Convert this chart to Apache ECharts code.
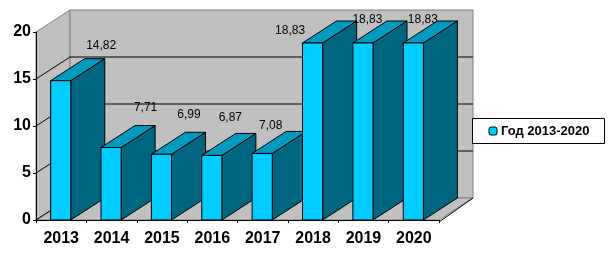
<!DOCTYPE html>
<html><head><meta charset="utf-8">
<style>html,body{margin:0;padding:0;background:#fff}#c{width:612px;height:255px}</style>
<script src="https://cdn.jsdelivr.net/npm/echarts@6/dist/echarts.min.js"></script>
</head><body><div id="c"></div>
<script>
const categories = ['2013','2014','2015','2016','2017','2018','2019','2020'];
const values = [14.82,7.71,6.99,6.87,7.08,18.83,18.83,18.83];
const labels = ['14,82','7,71','6,99','6,87','7,08','18,83','18,83','18,83'];
const yTicks = [0,5,10,15,20];
const seriesName = 'Год 2013-2020';
// label displacement from the bar's top-centre (styling, not data)
const labelDx = [40,34,27,18,8,-23,4,9];
const labelDy = [-35,-40,-40,-38,-28,-12,-23,-23];
const DX = 34, DY = -22, BAND = 0.4;
const FRONT='#00CCFF', TOP='#0099BF', SIDE='#006680', WALL='#C0C0C0', EDGE='#808080';
const font = 'Liberation Sans, Arial, sans-serif';

function poly(points, fill, stroke, lw){
  return {type:'polygon',shape:{points},style:{fill,stroke,lineWidth:lw===undefined?1:lw}};
}
function line(x1,y1,x2,y2,stroke){
  return {type:'line',shape:{x1,y1,x2,y2},style:{stroke,lineWidth:1}};
}
function renderWalls(params, api){
  const g = params.coordSys, L=g.x, R=g.x+g.width;
  const y0 = api.coord([0,0])[1], yT = api.coord([0,yTicks[yTicks.length-1]])[1];
  const kids = [
    poly([[L,y0],[L+DX,y0+DY],[L+DX,yT+DY],[L,yT]],WALL,EDGE),
    poly([[L+DX,y0+DY],[R+DX,y0+DY],[R+DX,yT+DY],[L+DX,yT+DY]],WALL,EDGE),
    poly([[L,y0],[R,y0],[R+DX,y0+DY],[L+DX,y0+DY]],WALL,EDGE),
    line(R,y0+2,R+DX,y0+DY,'#000')
  ];
  yTicks.forEach(t=>{
    const y = api.coord([0,t])[1];
    if(t>0 && t<yTicks[yTicks.length-1]) kids.push(line(L+DX,y+DY,R+DX,y+DY,'#000'));
    if(t<yTicks[yTicks.length-1]) kids.push(line(L,y,L+DX,y+DY,'#000'));
  });
  return {type:'group',children:kids};
}
function renderBar(params, api){
  const i = api.value(0), v = api.value(1);
  const c = api.coord([i,v]), b = api.coord([i,0]);
  const w = api.size([1,0])[0]*BAND, x0=c[0]-w/2-0.5, x1=c[0]+w/2-0.5, yt=c[1], yb=b[1];
  return {type:'group',children:[
    poly([[x1,yb],[x1+DX,yb+DY],[x1+DX,yt+DY],[x1,yt]],SIDE,'#000'),
    poly([[x0,yt],[x1,yt],[x1+DX,yt+DY],[x0+DX,yt+DY]],TOP,'#000'),
    poly([[x0,yb],[x1,yb],[x1,yt],[x0,yt]],FRONT,'#000')
  ]};
}
function renderLabel(params, api){
  const i = api.value(0), c = api.coord([i,api.value(1)]);
  return {type:'text',style:{
    text:labels[i],x:c[0]+labelDx[i],y:c[1]+labelDy[i],
    align:'center',verticalAlign:'middle',
    font:'12px '+font,fill:'#000'}};
}
const data = values.map((v,i)=>[i,v]);
const chart = echarts.init(document.getElementById('c'),null,{renderer:'canvas'});
chart.setOption({
  animation:false,
  backgroundColor:'#fff',
  grid:{left:36,right:173,top:32,bottom:35,containLabel:false},
  legend:{
    data:[{name:seriesName,icon:'roundRect',itemStyle:{color:FRONT,borderColor:'#000',borderWidth:1}}],
    left:472.5,top:118.5,
    itemWidth:8,itemHeight:8,itemGap:0,
    padding:[6,15,6,16],
    backgroundColor:'#fff',borderColor:'#000',borderWidth:1,borderRadius:0,
    textStyle:{fontFamily:font,fontSize:13,fontWeight:'bold',color:'#000',padding:[0,0,0,-1]}
  },
  xAxis:{type:'category',data:categories,boundaryGap:true,
    axisLine:{lineStyle:{color:'#000'}},
    axisTick:{show:true,length:3,alignWithLabel:false,lineStyle:{color:'#000'}},
    axisLabel:{fontFamily:font,fontSize:16,fontWeight:'bold',color:'#000',margin:11,interval:0},
    splitLine:{show:false}},
  yAxis:{type:'value',min:0,max:20,interval:5,
    axisLine:{show:true,lineStyle:{color:'#000'}},
    axisTick:{show:true,length:3,lineStyle:{color:'#000'}},
    axisLabel:{fontFamily:font,fontSize:16,fontWeight:'bold',color:'#000',margin:5},
    splitLine:{show:false}},
  series:[
    {type:'custom',name:'walls',z:-1,silent:true,data:[[0,0]],renderItem:renderWalls,clip:false},
    {type:'custom',name:seriesName,z:3,data,renderItem:renderBar,clip:false,
     itemStyle:{color:FRONT},encode:{x:0,y:1}},
    {type:'custom',name:'labels',z:5,silent:true,data,renderItem:renderLabel,clip:false,encode:{x:0,y:1}}
  ]
});
</script></body></html>
